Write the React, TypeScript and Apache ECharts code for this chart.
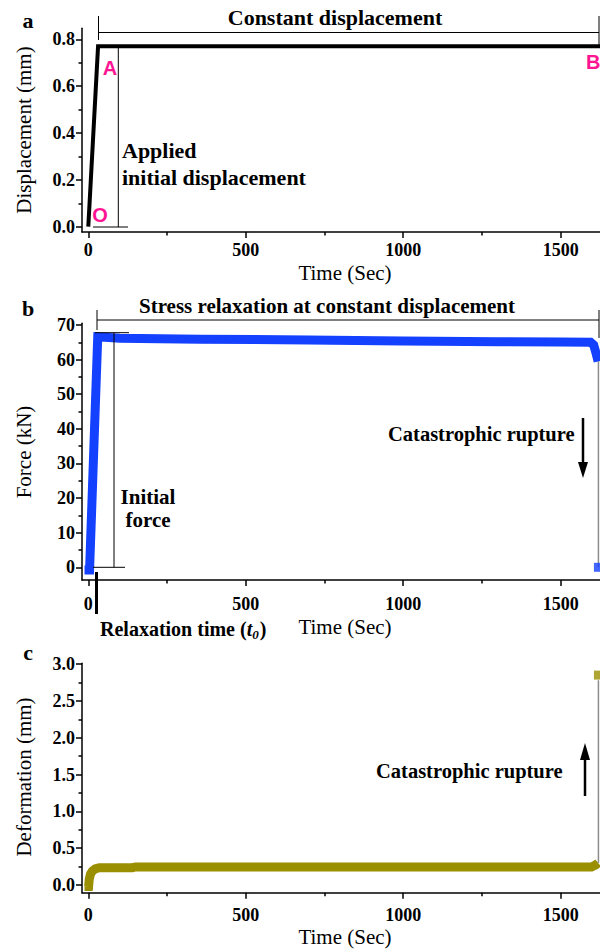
import React, { useEffect, useRef } from "react";
import * as echarts from "echarts";

// ---------- data ----------
const xMajorTicks = [0, 500, 1000, 1500];
const xMinorTicks = [250, 750, 1250];

const dispTime = [0, 31, 1625];
const dispVals = [0, 0.77, 0.77];
const dispMajor = [0, 0.2, 0.4, 0.6, 0.8];
const dispMinor = [0.1, 0.3, 0.5, 0.7];

const forceTime = [-12, 4, 30, 100, 356, 700, 1000, 1300, 1500, 1595, 1605, 1612, 1619];
const forceVals = [-0.8, -0.8, 66.6, 66.2, 65.9, 65.7, 65.4, 65.2, 65.1, 65.0, 64.2, 62.0, 59.5];
const forceRupture = [[1620, 59.5], [1620, 0]];
const forceAfter = [[1620, 0]];
const forceMajor = [0, 10, 20, 30, 40, 50, 60, 70];
const forceMinor = [5, 15, 25, 35, 45, 55, 65];

const defTime = [-12, 1, 3, 7, 13, 22, 35, 140, 150, 600, 1000, 1400, 1598, 1610, 1619];
const defVals = [-0.02, -0.02, 0.08, 0.15, 0.19, 0.22, 0.235, 0.235, 0.245, 0.245, 0.245, 0.245, 0.245, 0.27, 0.3];
const defRupture = [[1620, 0.3], [1620, 2.78]];
const defAfter = [[1620, 2.85]];
const defMajor = [0, 0.5, 1.0, 1.5, 2.0, 2.5, 3.0];
const defMinor = [0.25, 0.75, 1.25, 1.75, 2.25, 2.75];

const SERIF = "Liberation Serif";
const SANS = "Liberation Sans";
const BLUE = "#1440ff";
const OLIVE = "#9a8f00";
const PINK = "#ff1493";

const zip = (xs: number[], ys: number[]) => xs.map((x, i) => [x, ys[i]]);

export default function App() {
  const ref = useRef<HTMLDivElement>(null);
  useEffect(() => {
    const chart = echarts.init(ref.current!, undefined, { renderer: "svg" });

    const X_MIN = -20;
    const X_MAX = 1625;
    const mainGrids = [
      { left: 82, top: 28.3, width: 518, height: 203.7 },
      { left: 82, top: 323.3, width: 518, height: 256.7 },
      { left: 82, top: 663.3, width: 518, height: 229.4 },
    ];
    const yRanges = [
      { min: -0.0225, max: 0.847, major: dispMajor, minor: dispMinor, fmt: (v: number) => v.toFixed(1) },
      { min: -3.67, max: 70.5, major: forceMajor, minor: forceMinor, fmt: (v: number) => String(v) },
      { min: -0.104, max: 3.01, major: defMajor, minor: defMinor, fmt: (v: number) => v.toFixed(1) },
    ];
    const xLabelMargins = [9, 15, 13];
    const labelStyle = {
      fontFamily: SERIF,
      fontWeight: "bold",
      fontSize: 18,
      color: "#000",
    };
    const lineBlack = { color: "#000", width: 1.5 };

    const grids: any[] = [...mainGrids];
    const xAxis: any[] = [];
    const yAxis: any[] = [];

    mainGrids.forEach((g, gi) => {
      const yr = yRanges[gi];
      xAxis.push({
        type: "value",
        gridIndex: gi,
        position: "bottom",
        min: X_MIN,
        max: X_MAX,
        splitLine: { show: false },
        axisLine: { show: true, onZero: false, lineStyle: lineBlack },
        axisTick: { show: false },
        axisLabel: {
          show: true,
          customValues: xMajorTicks,
          formatter: (v: number) => String(v),
          margin: xLabelMargins[gi],
          ...labelStyle,
        },
      });
      yAxis.push({
        type: "value",
        gridIndex: gi,
        position: "left",
        min: yr.min,
        max: yr.max,
        splitLine: { show: false },
        axisLine: { show: true, onZero: false, lineStyle: lineBlack },
        axisTick: { show: false },
        axisLabel: {
          show: true,
          customValues: yr.major,
          formatter: yr.fmt,
          margin: 7,
          ...labelStyle,
        },
      });
    });

    // tick marks: thin helper grids whose top / right edge sits on the main axes
    const addXTicks = (g: any, values: number[], len: number) => {
      const gx = grids.length;
      grids.push({ left: g.left, width: g.width, top: g.top + g.height, height: 10 });
      xAxis.push({
        type: "value",
        gridIndex: gx,
        position: "top",
        min: X_MIN,
        max: X_MAX,
        splitLine: { show: false },
        axisLine: { show: false, onZero: false },
        axisTick: { show: true, inside: true, customValues: values, length: len, lineStyle: lineBlack },
        axisLabel: { show: false },
      });
      yAxis.push({ type: "value", gridIndex: gx, show: false, min: 0, max: 1 });
    };
    const addYTicks = (g: any, yr: any, values: number[], len: number) => {
      const gy = grids.length;
      grids.push({ left: g.left - 10, width: 10, top: g.top, height: g.height });
      xAxis.push({ type: "value", gridIndex: gy, show: false, min: 0, max: 1 });
      yAxis.push({
        type: "value",
        gridIndex: gy,
        position: "right",
        min: yr.min,
        max: yr.max,
        splitLine: { show: false },
        axisLine: { show: false, onZero: false },
        axisTick: { show: true, inside: true, customValues: values, length: len, lineStyle: lineBlack },
        axisLabel: { show: false },
      });
    };
    mainGrids.forEach((g, gi) => {
      const yr = yRanges[gi];
      addXTicks(g, xMajorTicks, 6);
      addXTicks(g, xMinorTicks, 3.5);
      addYTicks(g, yr, yr.major, 6);
      addYTicks(g, yr, yr.minor, 3.5);
    });

    const lineSeries = (gi: number, data: number[][], color: string, width: number, z = 2) => ({
      type: "line",
      xAxisIndex: gi,
      yAxisIndex: gi,
      data,
      showSymbol: false,
      symbol: "none",
      lineStyle: { color, width, join: "miter", cap: "butt" },
      z,
    });

    const series: any[] = [
      lineSeries(0, zip(dispTime, dispVals), "#000", 4),
      lineSeries(1, forceRupture, "#8c8c8c", 1.5, 1),
      lineSeries(1, zip(forceTime, forceVals), BLUE, 9),
      {
        type: "scatter",
        xAxisIndex: 1,
        yAxisIndex: 1,
        data: forceAfter,
        symbol: "rect",
        symbolSize: 9,
        itemStyle: { color: BLUE },
        clip: false,
      },
      lineSeries(2, defRupture, "#8c8c8c", 1.5, 1),
      lineSeries(2, zip(defTime, defVals), OLIVE, 9),
      {
        type: "scatter",
        xAxisIndex: 2,
        yAxisIndex: 2,
        data: defAfter,
        symbol: "rect",
        symbolSize: 9,
        itemStyle: { color: OLIVE },
        clip: false,
      },
    ];

    const txt = (x: number, y: number, text: string, opts: any = {}) => ({
      type: "text",
      x,
      y,
      style: {
        text,
        fontFamily: SERIF,
        fontSize: 20,
        fontWeight: "bold",
        fill: "#000",
        align: "left",
        verticalAlign: "middle",
        ...opts,
      },
      z: 10,
    });
    const seg = (x1: number, y1: number, x2: number, y2: number, w = 1, color = "#000") => ({
      type: "line",
      shape: { x1, y1, x2, y2 },
      style: { stroke: color, lineWidth: w },
      z: 10,
    });
    const vtitle = (x: number, y: number, text: string) => ({
      type: "text",
      x,
      y,
      rotation: Math.PI / 2,
      style: {
        text,
        fontFamily: SERIF,
        fontSize: 21,
        fontWeight: "normal",
        fill: "#000",
        align: "center",
        verticalAlign: "middle",
      },
      z: 10,
    });

    const graphic: any[] = [
      // panel letters
      txt(28, 20, "a", { fontSize: 22, align: "center" }),
      txt(28, 308, "b", { fontSize: 22, align: "center" }),
      txt(28, 652, "c", { fontSize: 22, align: "center" }),
      // axis titles
      vtitle(24, 130, "Displacement (mm)"),
      vtitle(24, 452, "Force (kN)"),
      vtitle(24, 777, "Deformation (mm)"),
      txt(345, 273, "Time (Sec)", { fontSize: 21, fontWeight: "normal", align: "center" }),
      txt(345, 627, "Time (Sec)", { fontSize: 21, fontWeight: "normal", align: "center" }),
      txt(345, 937, "Time (Sec)", { fontSize: 21, fontWeight: "normal", align: "center" }),

      // panel a annotations
      txt(335, 17, "Constant displacement", { fontSize: 22, align: "center" }),
      seg(98.5, 16, 98.5, 40),
      seg(98.5, 32.5, 599, 32.5),
      seg(599, 16, 599, 46),
      seg(118.3, 45, 118.3, 227),
      seg(93, 227, 128, 227),
      txt(122, 150, "Applied", { fontSize: 22 }),
      txt(122, 177, "initial displacement", { fontSize: 22 }),
      txt(110, 68, "A", { fontFamily: SANS, fill: PINK, align: "center", fontSize: 20 }),
      txt(100, 215, "O", { fontFamily: SANS, fill: PINK, align: "center", fontSize: 20 }),
      txt(586, 62, "B", { fontFamily: SANS, fill: PINK, align: "left", fontSize: 20 }),

      // panel b annotations
      txt(327, 306, "Stress relaxation at constant displacement", { fontSize: 21, align: "center" }),
      seg(97, 310, 97, 330),
      seg(97, 320, 599, 320),
      seg(599, 310, 599, 338),
      seg(95, 332.7, 129, 332.7),
      seg(114, 332.7, 114, 567.3),
      seg(93, 567.3, 125, 567.3),
      txt(148, 497, "Initial", { align: "center", fontSize: 21 }),
      txt(148, 520, "force", { align: "center", fontSize: 21 }),
      txt(388, 434, "Catastrophic rupture", { fontSize: 20.5 }),
      seg(583, 418, 583, 466, 2.5),
      { type: "polygon", shape: { points: [[578, 462], [588, 462], [583, 478]] }, style: { fill: "#000" }, z: 10 },
      seg(96.5, 572, 96.5, 614, 3),
      {
        type: "text",
        x: 100,
        y: 629,
        style: {
          text: "{b|Relaxation time (}{i|t}{s|0}{b|)}",
          verticalAlign: "middle",
          align: "left",
          rich: {
            b: { fontFamily: SERIF, fontSize: 20, fontWeight: "bold", fill: "#000" },
            i: { fontFamily: SERIF, fontSize: 20, fontWeight: "bold", fontStyle: "italic", fill: "#000" },
            s: { fontFamily: SERIF, fontSize: 13, fontWeight: "bold", fontStyle: "italic", fill: "#000", padding: [10, 1, 0, 0] },
          },
        },
        z: 10,
      },

      // panel c annotations
      txt(376, 771, "Catastrophic rupture", { fontSize: 20.5 }),
      seg(585, 796, 585, 756, 2.5),
      { type: "polygon", shape: { points: [[580, 760], [590, 760], [585, 743]] }, style: { fill: "#000" }, z: 10 },
    ];

    chart.setOption({
      animation: false,
      backgroundColor: "#fff",
      textStyle: { fontFamily: SERIF },
      grid: grids,
      xAxis,
      yAxis,
      series,
      graphic,
    });
    return () => chart.dispose();
  }, []);

  return (
    <div
      ref={ref}
      style={{ position: "absolute", left: 0, top: 0, width: 600, height: 949, background: "#fff" }}
    />
  );
}
